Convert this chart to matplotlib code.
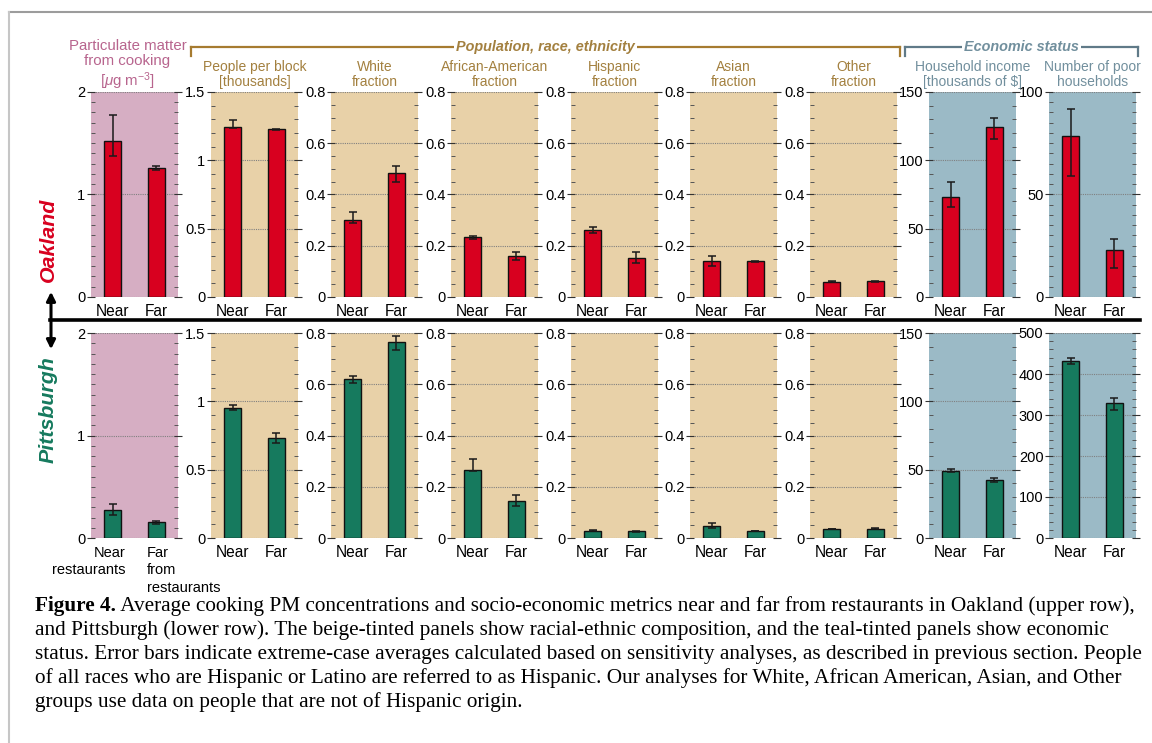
import matplotlib.pyplot as plt
import numpy as np
from matplotlib.lines import Line2D
from matplotlib.patches import FancyArrowPatch
from matplotlib.ticker import MultipleLocator, FuncFormatter

W, H = 1152, 743
plt.rcParams['font.family'] = ['Liberation Sans', 'DejaVu Sans']
plt.rcParams['mathtext.fontset'] = 'custom'
plt.rcParams['mathtext.rm'] = 'Liberation Sans'
plt.rcParams['mathtext.it'] = 'Liberation Sans:italic'

# panel titles and groups
titles = ["Particulate matter\nfrom cooking\n[$\\mu$g m$^{-3}$]",
          "People per block\n[thousands]",
          "White\nfraction",
          "African-American\nfraction",
          "Hispanic\nfraction",
          "Asian\nfraction",
          "Other\nfraction",
          "Household income\n[thousands of $]",
          "Number of poor\nhouseholds"]
groups = ["pm", "pop", "pop", "pop", "pop", "pop", "pop", "eco", "eco"]
bars = ["Near", "Far"]

# Oakland (upper row)
oak_near = [1.52, 1.247, 0.30, 0.233, 0.261, 0.14, 0.059, 73.4, 78.3]
oak_near_lo = [1.38, 1.238, 0.29, 0.228, 0.250, 0.122, 0.057, 65.8, 59.1]
oak_near_hi = [1.78, 1.296, 0.331, 0.238, 0.272, 0.160, 0.061, 84.0, 91.9]
oak_far = [1.26, 1.226, 0.484, 0.160, 0.152, 0.140, 0.062, 124.4, 22.9]
oak_far_lo = [1.24, 1.223, 0.447, 0.146, 0.133, 0.138, 0.060, 115.3, 14.1]
oak_far_hi = [1.28, 1.229, 0.510, 0.176, 0.175, 0.142, 0.064, 130.8, 28.3]

# Pittsburgh (lower row)
pit_near = [0.27, 0.951, 0.620, 0.267, 0.029, 0.047, 0.035, 49.3, 432]
pit_near_lo = [0.22, 0.935, 0.605, 0.262, 0.028, 0.040, 0.034, 48.0, 425]
pit_near_hi = [0.33, 0.973, 0.632, 0.310, 0.030, 0.060, 0.036, 50.8, 438]
pit_far = [0.155, 0.732, 0.765, 0.145, 0.026, 0.028, 0.037, 42.5, 329]
pit_far_lo = [0.14, 0.695, 0.734, 0.126, 0.025, 0.027, 0.036, 41.3, 312]
pit_far_hi = [0.165, 0.770, 0.788, 0.168, 0.027, 0.029, 0.038, 43.6, 342]

ytop_oak = [2, 1.5, 0.8, 0.8, 0.8, 0.8, 0.8, 150, 100]
ytop_pit = [2, 1.5, 0.8, 0.8, 0.8, 0.8, 0.8, 150, 500]
major_oak = [1, 0.5, 0.2, 0.2, 0.2, 0.2, 0.2, 50, 50]
major_pit = [1, 0.5, 0.2, 0.2, 0.2, 0.2, 0.2, 50, 100]
minor_oak = [0.1, 0.1, 0.05, 0.05, 0.05, 0.05, 0.05, 10, 5]
minor_pit = [0.1, 0.1, 0.05, 0.05, 0.05, 0.05, 0.05, 10, 20]

bg = {"pm": "#d6aec3", "pop": "#e8d1a8", "eco": "#9bbac6"}
tcol = {"pm": "#b8658e", "pop": "#a3803f", "eco": "#718f9d"}
red = "#d8001f"
green = "#167a5e"

lefts = [91, 211, 331, 451, 571, 690, 810, 929, 1049]
pw, ph = 87, 205


def fx(px):
    return px / W


def fy(py):
    return 1 - py / H


fig = plt.figure(figsize=(W / 100, H / 100), dpi=100)

rows = [
    (oak_near, oak_near_lo, oak_near_hi, oak_far, oak_far_lo, oak_far_hi,
     ytop_oak, major_oak, minor_oak, red, 92),
    (pit_near, pit_near_lo, pit_near_hi, pit_far, pit_far_lo, pit_far_hi,
     ytop_pit, major_pit, minor_pit, green, 333),
]

for r, (nr, nlo, nhi, fa, flo, fhi, ytop, maj, mnr, col, top) in enumerate(rows):
    for i in range(9):
        ax = fig.add_axes([fx(lefts[i]), fy(top + ph), fx(pw), ph / H])
        ax.set_facecolor(bg[groups[i]])
        vals = [nr[i], fa[i]]
        err = [[nr[i] - nlo[i], fa[i] - flo[i]], [nhi[i] - nr[i], fhi[i] - fa[i]]]
        ax.bar([0, 1], vals, width=0.4, color=col, edgecolor="#111111",
               linewidth=1.0, zorder=2)
        ax.errorbar([0, 1], vals, yerr=err, fmt="none", ecolor="#1a1a1a",
                    elinewidth=1.1, capsize=3, capthick=1.1, zorder=3)
        ax.set_xlim(-0.5, 1.5)
        ax.set_ylim(0, ytop[i])
        ax.yaxis.set_major_locator(MultipleLocator(maj[i]))
        ax.yaxis.set_minor_locator(MultipleLocator(mnr[i]))
        ax.yaxis.set_major_formatter(FuncFormatter(lambda v, p: f"{v:g}"))
        ax.grid(axis="y", which="major", linestyle=(0, (1, 1)),
                color="#808080", linewidth=0.8, zorder=1)
        ax.set_axisbelow(True)
        for s in ax.spines.values():
            s.set_visible(False)
        ax.tick_params(axis="y", which="major", direction="inout", length=6,
                       width=0.8, color="#333333", right=True, labelsize=10.5,
                       pad=1)
        ax.tick_params(axis="y", which="minor", direction="in", length=3,
                       width=0.7, color="#555555", right=True)
        ax.set_xticks([0, 1])
        ax.tick_params(axis="x", length=0, labelsize=11.2, pad=5)
        if r == 1 and i == 0:
            ax.set_xticklabels(["", ""])
            tr = ax.get_xaxis_transform()
            ax.text(0.3, -0.04, "Near\nrestaurants", transform=tr, ha="right",
                    va="top", fontsize=10.5, linespacing=1.3)
            ax.text(0.78, -0.04, "Far\nfrom\nrestaurants", transform=tr,
                    ha="left", va="top", fontsize=10.5, linespacing=1.3)
        else:
            ax.set_xticklabels(bars)
        if r == 0:
            if i == 0:
                ax.set_title(titles[i], fontsize=10.8, color=tcol[groups[i]],
                             pad=4, linespacing=1.14, x=0.42)
            else:
                ax.set_title(titles[i], fontsize=10, color=tcol[groups[i]],
                             pad=4, linespacing=1.1)


# group brackets
def bracket(x0, x1, label, color, tc):
    y = fy(47)
    fig.add_artist(Line2D([fx(x0), fx(x1)], [y, y], color=color, lw=1.6))
    for x in (x0, x1):
        fig.add_artist(Line2D([fx(x), fx(x)], [y, fy(56)], color=color, lw=1.6))
    fig.text(fx((x0 + x1) / 2), y, label, ha="center", va="center",
             fontsize=10.4, fontweight="bold", fontstyle="italic", color=tc,
             bbox=dict(facecolor="white", edgecolor="none", pad=1.5))


bracket(191, 900, "Population, race, ethnicity", "#a67b30", "#a3803f")
bracket(905, 1138, "Economic status", "#607a88", "#718f9d")

# city separator and labels
fig.add_artist(Line2D([fx(50), fx(1140)], [fy(320), fy(320)], color="black", lw=2.6))
fig.add_artist(FancyArrowPatch(
    (fx(51), fy(289)), (fx(51), fy(352)), transform=fig.transFigure,
    arrowstyle="<|-|>", mutation_scale=13, lw=2.2, color="black"))
fig.text(fx(48), fy(240), "Oakland", rotation=90, ha="center", va="center",
         fontsize=15.4, fontweight="bold", fontstyle="italic", color=red)
fig.text(fx(48), fy(410), "Pittsburgh", rotation=90, ha="center", va="center",
         fontsize=15.4, fontweight="bold", fontstyle="italic", color=green)

# frame lines
fig.add_artist(Line2D([fx(9), 1], [fy(12), fy(12)], color="#9c9c9c", lw=1.5))
fig.add_artist(Line2D([fx(9), fx(9)], [fy(12), 0], color="#c6c6c6", lw=1.5))

# caption
cap_lines = [
    " Average cooking PM concentrations and socio-economic metrics near and far from restaurants in Oakland (upper row),",
    "and Pittsburgh (lower row). The beige-tinted panels show racial-ethnic composition, and the teal-tinted panels show economic",
    "status. Error bars indicate extreme-case averages calculated based on sensitivity analyses, as described in previous section. People",
    "of all races who are Hispanic or Latino are referred to as Hispanic. Our analyses for White, African American, Asian, and Other",
    "groups use data on people that are not of Hispanic origin.",
]
cap_font = ["Liberation Serif", "DejaVu Serif"]
cap_size = 15.3
renderer = fig.canvas.get_renderer()
t0 = fig.text(fx(35), fy(606), "Figure 4.", family=cap_font, fontsize=cap_size,
              fontweight="bold", va="center", ha="left")
bb = t0.get_window_extent(renderer)
for k, line in enumerate(cap_lines):
    x = bb.x1 / W if k == 0 else fx(35)
    fig.text(x, fy(606 + 24 * k), line, family=cap_font, fontsize=cap_size,
             va="center", ha="left")

fig.savefig("out.png", dpi=100)
